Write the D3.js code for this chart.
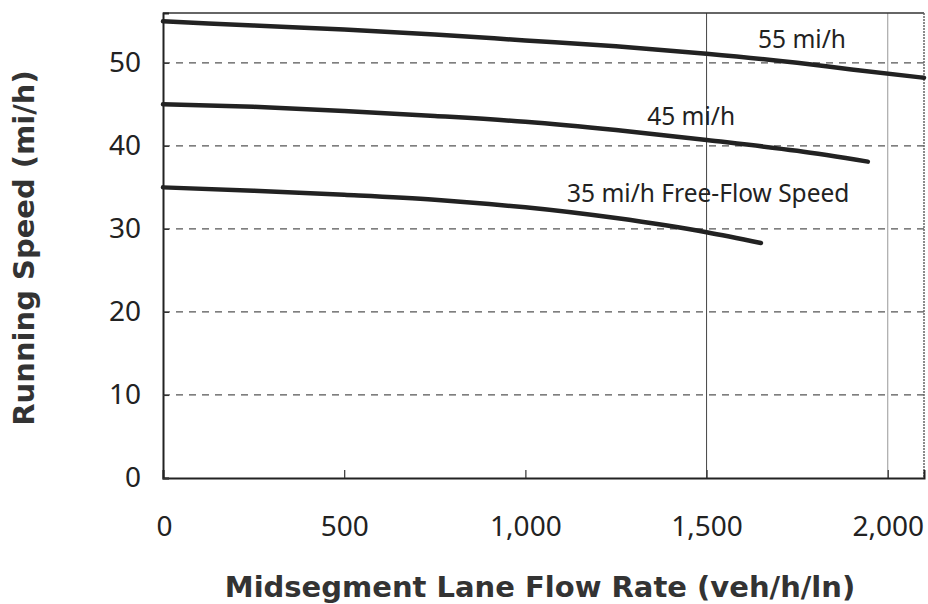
<!DOCTYPE html>
<html>
<head>
<meta charset="utf-8">
<script src="https://cdn.jsdelivr.net/npm/d3@7"></script>
<style>
  body { margin: 0; background: #fff; }
  svg { display: block; }
</style>
</head>
<body>
<svg id="chart" width="928" height="604"></svg>
<script>
// flow rate (veh/h/ln) vs running speed (mi/h)
let flow55 = [0, 250, 500, 750, 1000, 1250, 1500, 1750, 1900, 2100];
let speed55 = [55, 54.5, 54, 53.4, 52.7, 52, 51.1, 50, 49.2, 48.2];
let flow45 = [0, 250, 500, 750, 1000, 1250, 1500, 1750, 1945];
let speed45 = [45, 44.7, 44.2, 43.6, 42.9, 41.9, 40.7, 39.4, 38.1];
let flow35 = [0, 250, 500, 750, 900, 1000, 1250, 1500, 1650];
let speed35 = [35, 34.6, 34.1, 33.5, 33, 32.6, 31.3, 29.6, 28.3];

let xTicks = [0, 500, 1000, 1500, 2000];
let xTickLabels = ["0", "500", "1,000", "1,500", "2,000"];
let yTicks = [0, 10, 20, 30, 40, 50];
let curveLabels = ["55 mi/h", "45 mi/h", "35 mi/h Free-Flow Speed"];

let svg = d3.select("#chart");
let font = "'Noto Sans', 'DejaVu Sans', sans-serif";
let boldFont = "'DejaVu Sans', Verdana, sans-serif";

let x = d3.scaleLinear().domain([0, 2100]).range([163, 924]);
let y = d3.scaleLinear().domain([0, 56]).range([478, 13]);

// horizontal dashed grid
svg.append("g")
  .selectAll("line")
  .data(yTicks.filter(d => d > 0))
  .enter()
  .append("line")
  .attr("x1", x(0)).attr("x2", x(2100))
  .attr("y1", d => y(d)).attr("y2", d => y(d))
  .attr("stroke", "#555")
  .attr("stroke-width", 1.2)
  .attr("stroke-dasharray", "7,6");

// vertical lines at 1500 and 2000
svg.append("line")
  .attr("x1", x(1500)).attr("x2", x(1500))
  .attr("y1", y(56)).attr("y2", y(0))
  .attr("stroke", "#444").attr("stroke-width", 1);
svg.append("line")
  .attr("x1", x(2000)).attr("x2", x(2000))
  .attr("y1", y(56)).attr("y2", y(0))
  .attr("stroke", "#999").attr("stroke-width", 1);

// frame: top and right
svg.append("line")
  .attr("x1", x(0)).attr("x2", x(2100))
  .attr("y1", y(56)).attr("y2", y(56))
  .attr("stroke", "#333").attr("stroke-width", 1.5);
svg.append("line")
  .attr("x1", x(2100)).attr("x2", x(2100))
  .attr("y1", y(56)).attr("y2", y(0))
  .attr("stroke", "#666").attr("stroke-width", 1.5)
  .attr("stroke-dasharray", "2,1");

// axes
let xAxis = d3.axisBottom(x)
  .tickValues(xTicks)
  .tickSize(-8)
  .tickFormat((d, i) => xTickLabels[i]);
let gx = svg.append("g")
  .attr("transform", "translate(0," + y(0) + ")")
  .call(xAxis);
gx.select(".domain").attr("stroke", "#222").attr("stroke-width", 2);
gx.selectAll(".tick line").attr("stroke", "#333").attr("stroke-width", 1.2);
gx.selectAll(".tick text")
  .attr("y", 58)
  .attr("dy", 0)
  .attr("font-family", font)
  .attr("font-size", 28)
  .attr("fill", "#222");
gx.selectAll(".tick text").filter(d => d === 0).attr("dx", 1);

let yAxis = d3.axisLeft(y)
  .tickValues(yTicks)
  .tickSize(-6)
  .tickPadding(22);
let gy = svg.append("g")
  .attr("transform", "translate(" + x(0) + ",0)")
  .call(yAxis);
gy.select(".domain").attr("stroke", "#222").attr("stroke-width", 2);
gy.selectAll(".tick line").attr("stroke", "#333").attr("stroke-width", 1.2);
gy.selectAll(".tick text")
  .attr("font-family", font)
  .attr("font-size", 28)
  .attr("fill", "#222");

// curves
let line = d3.line()
  .x(d => x(d[0]))
  .y(d => y(d[1]))
  .curve(d3.curveMonotoneX);

let series = [
  d3.zip(flow55, speed55),
  d3.zip(flow45, speed45),
  d3.zip(flow35, speed35)
];

svg.append("g")
  .selectAll("path")
  .data(series)
  .enter()
  .append("path")
  .attr("d", d => line(d))
  .attr("fill", "none")
  .attr("stroke", "#222")
  .attr("stroke-width", 4.5)
  .attr("stroke-linecap", "round");

// curve labels
let labelPos = [[1642, 51.8], [1336, 42.5], [1115, 33.24]];
svg.append("g")
  .selectAll("text")
  .data(curveLabels)
  .enter()
  .append("text")
  .attr("x", (d, i) => x(labelPos[i][0]))
  .attr("y", (d, i) => y(labelPos[i][1]))
  .attr("font-family", font)
  .attr("font-size", 24.5)
  .attr("fill", "#222")
  .text(d => d);

// axis titles
svg.append("text")
  .attr("x", 540)
  .attr("y", 597)
  .attr("text-anchor", "middle")
  .attr("font-family", boldFont)
  .attr("font-weight", "bold")
  .attr("font-size", 29)
  .attr("fill", "#333")
  .text("Midsegment Lane Flow Rate (veh/h/ln)");

svg.append("text")
  .attr("transform", "translate(34,248) rotate(-90)")
  .attr("text-anchor", "middle")
  .attr("font-family", boldFont)
  .attr("font-weight", "bold")
  .attr("font-size", 29)
  .attr("fill", "#333")
  .text("Running Speed (mi/h)");
</script>
</body>
</html>
